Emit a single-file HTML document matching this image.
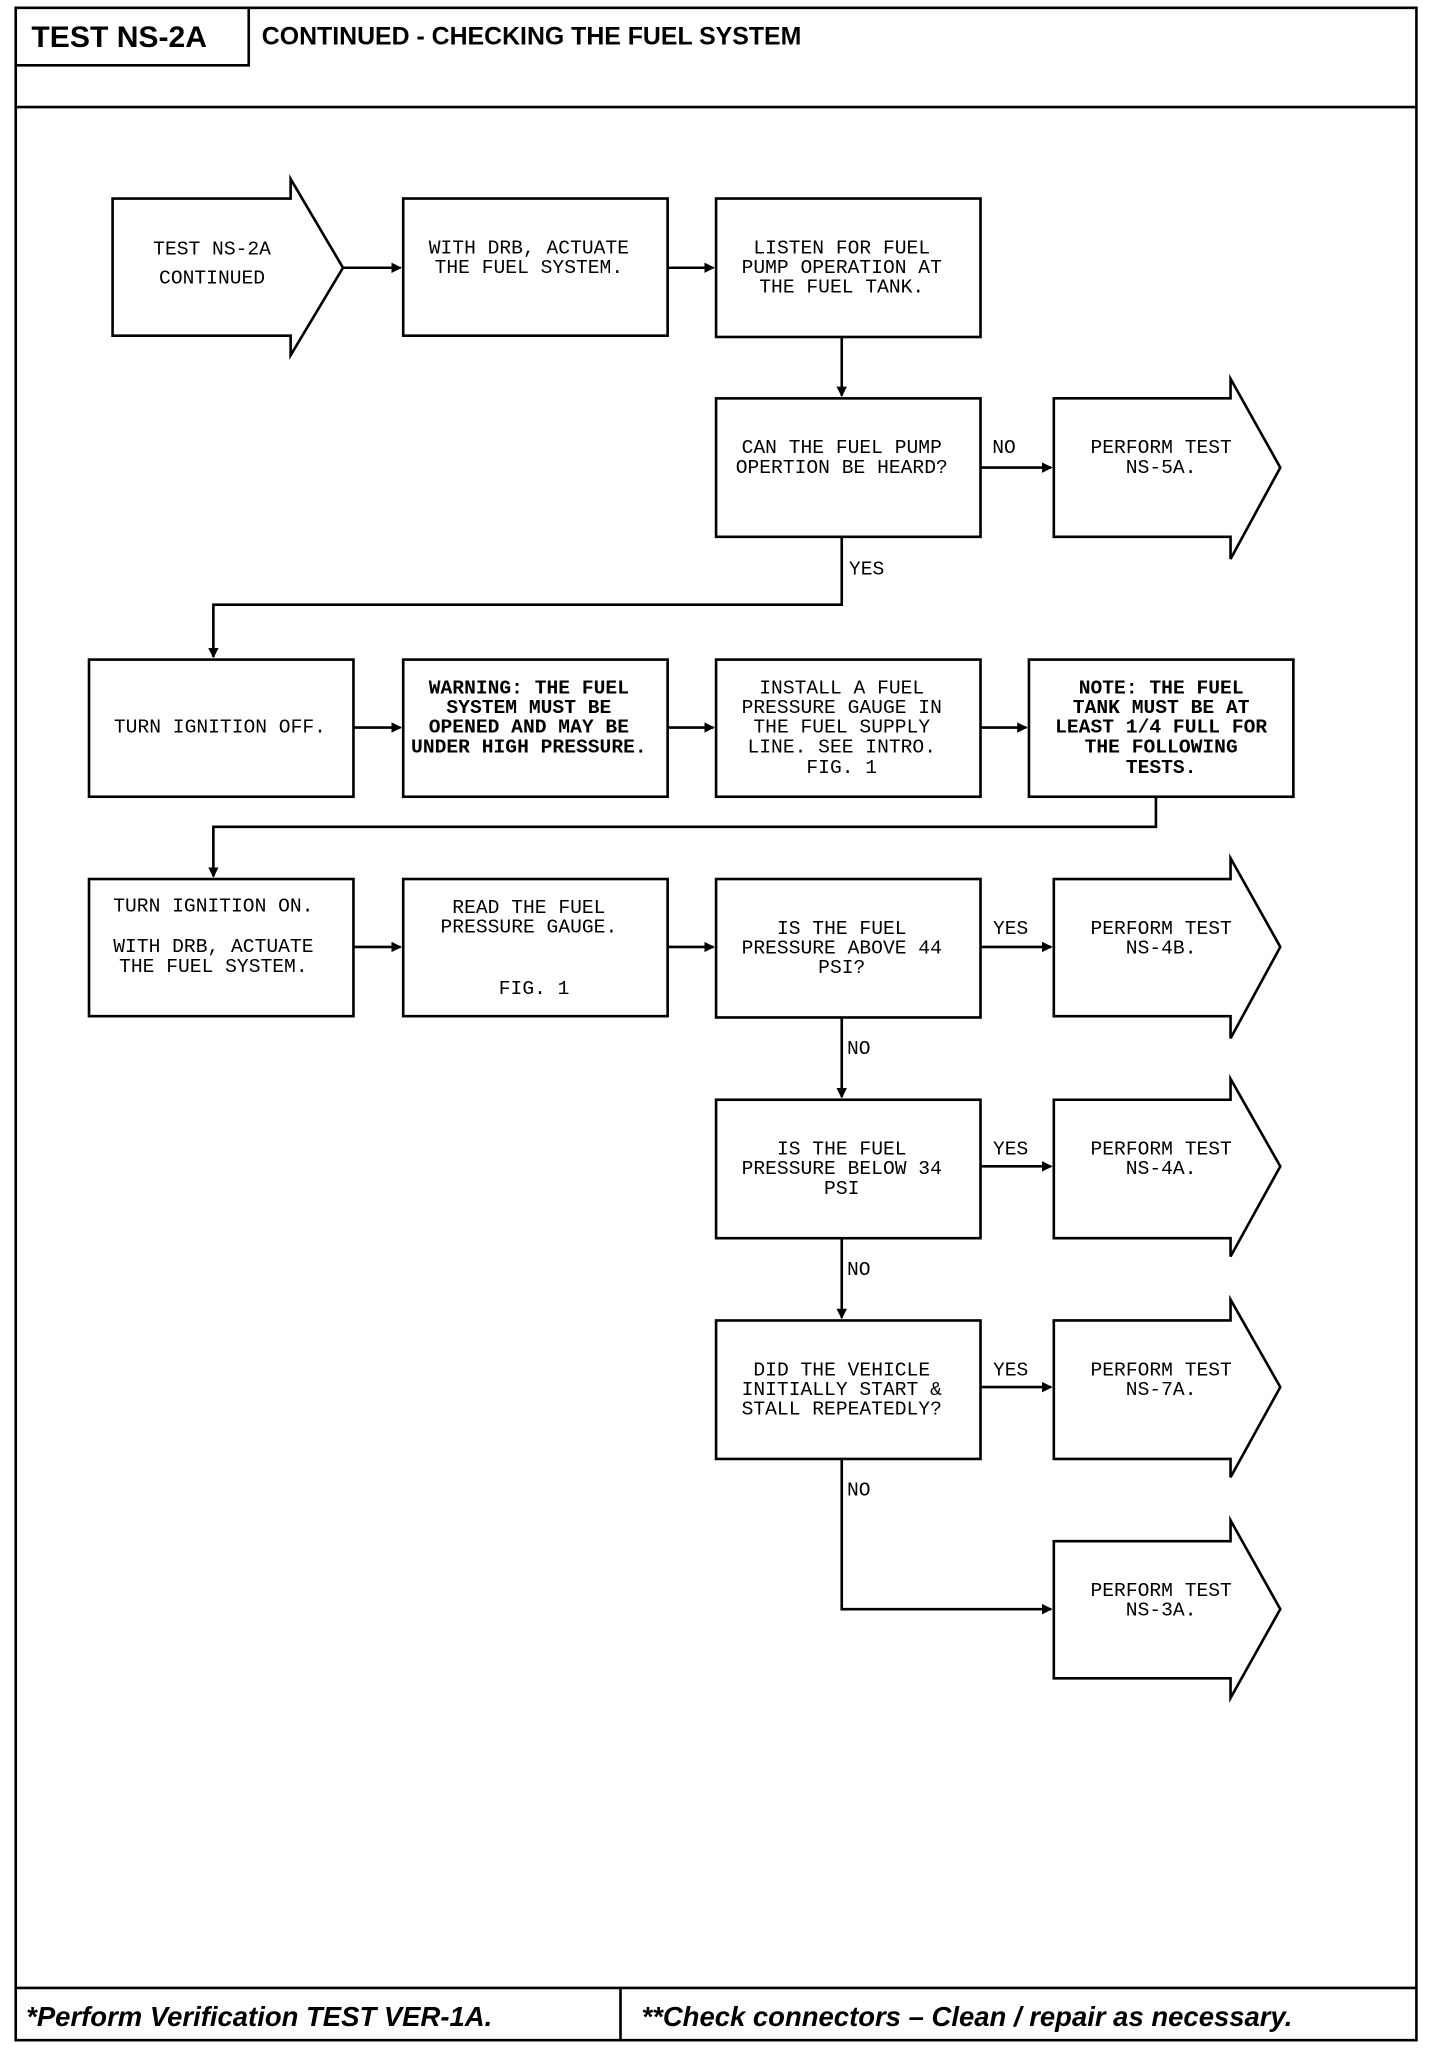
<!DOCTYPE html>
<html><head><meta charset="utf-8"><style>
html,body{margin:0;padding:0;background:#fff;width:1440px;height:2048px;overflow:hidden}
svg{display:block}
.m{font-family:"Liberation Mono",monospace;font-size:15px;text-anchor:middle;fill:#000}
.b{font-weight:bold}
.h{font-family:"Liberation Sans",sans-serif;font-weight:bold;fill:#000}
</style></head><body>
<svg width="1440" height="2048" viewBox="0 0 1100 1568" preserveAspectRatio="none" xmlns="http://www.w3.org/2000/svg">
<defs><marker id="a" markerWidth="8" markerHeight="8" refX="7" refY="4" orient="auto" markerUnits="userSpaceOnUse"><path d="M0,0 L8,4 L0,8 z" fill="#000"/></marker></defs>
<g fill="none" stroke="#000" stroke-width="2">
<rect x="12" y="6" width="1070" height="1556"/>
<line x1="12" y1="82" x2="1082" y2="82"/>
<polyline points="12,50 190,50 190,6"/>
<line x1="12" y1="1522" x2="1082" y2="1522"/>
<line x1="474" y1="1522" x2="474" y2="1562"/>
<!-- start arrow -->
<polygon points="86,152 222,152 222,137 262,205 222,272 222,257 86,257"/>
<rect x="308" y="152" width="202" height="105"/>
<rect x="547" y="152" width="202" height="106"/>
<rect x="547" y="305" width="202" height="106"/>
<polygon points="805,305 940,305 940,290 978,358 940,428 940,411 805,411"/>
<rect x="68" y="505" width="202" height="105"/>
<rect x="308" y="505" width="202" height="105"/>
<rect x="547" y="505" width="202" height="105"/>
<rect x="786" y="505" width="202" height="105"/>
<rect x="68" y="673" width="202" height="105"/>
<rect x="308" y="673" width="202" height="105"/>
<rect x="547" y="673" width="202" height="106"/>
<polygon points="805,673 940,673 940,657 978,725 940,795 940,778 805,778"/>
<rect x="547" y="842" width="202" height="106"/>
<polygon points="805,842 940,842 940,826 978,893 940,962 940,948 805,948"/>
<rect x="547" y="1011" width="202" height="106"/>
<polygon points="805,1011 940,1011 940,995 978,1062 940,1131 940,1117 805,1117"/>
<polygon points="805,1180 940,1180 940,1164 978,1232 940,1300 940,1285 805,1285"/>
</g>
<g fill="none" stroke="#000" stroke-width="2">
<line x1="262" y1="205" x2="306" y2="205" marker-end="url(#a)"/>
<line x1="510" y1="205" x2="545" y2="205" marker-end="url(#a)"/>
<line x1="643" y1="258" x2="643" y2="303" marker-end="url(#a)"/>
<line x1="749" y1="358" x2="803" y2="358" marker-end="url(#a)"/>
<polyline points="643,411 643,463 163,463 163,503" marker-end="url(#a)"/>
<line x1="270" y1="557" x2="306" y2="557" marker-end="url(#a)"/>
<line x1="510" y1="557" x2="545" y2="557" marker-end="url(#a)"/>
<line x1="749" y1="557" x2="784" y2="557" marker-end="url(#a)"/>
<polyline points="883,610 883,633 163,633 163,671" marker-end="url(#a)"/>
<line x1="270" y1="725" x2="306" y2="725" marker-end="url(#a)"/>
<line x1="510" y1="725" x2="545" y2="725" marker-end="url(#a)"/>
<line x1="749" y1="725" x2="803" y2="725" marker-end="url(#a)"/>
<line x1="643" y1="779" x2="643" y2="840" marker-end="url(#a)"/>
<line x1="749" y1="893" x2="803" y2="893" marker-end="url(#a)"/>
<line x1="643" y1="948" x2="643" y2="1009" marker-end="url(#a)"/>
<line x1="749" y1="1062" x2="803" y2="1062" marker-end="url(#a)"/>
<polyline points="643,1117 643,1232 803,1232" marker-end="url(#a)"/>
</g>
<text class="h" x="24" y="36" font-size="23">TEST NS-2A</text>
<text class="h" x="200" y="34" font-size="19">CONTINUED -  CHECKING THE FUEL SYSTEM</text>
<text class="h" x="20" y="1551" font-size="21" font-style="italic">*Perform Verification TEST VER-1A.</text>
<text class="h" x="490" y="1551" font-size="21" font-style="italic">**Check connectors – Clean / repair as necessary.</text>
<g class="m">
<text x="162" y="195">TEST NS-2A</text><text x="162" y="217">CONTINUED</text>
<text x="404" y="194">WITH DRB, ACTUATE</text><text x="404" y="209">THE FUEL SYSTEM.</text>
<text x="643" y="194">LISTEN FOR FUEL</text><text x="643" y="209">PUMP OPERATION AT</text><text x="643" y="224">THE FUEL TANK.</text>
<text x="643" y="347">CAN THE FUEL PUMP</text><text x="643" y="362">OPERTION BE HEARD?</text>
<text x="767" y="347">NO</text>
<text x="887" y="347">PERFORM TEST</text><text x="887" y="362">NS-5A.</text>
<text x="662" y="440">YES</text>
<text x="168" y="561">TURN IGNITION OFF.</text>
<g class="b"><text x="404" y="531">WARNING: THE FUEL</text><text x="404" y="546">SYSTEM MUST BE</text><text x="404" y="561">OPENED AND MAY BE</text><text x="404" y="576">UNDER HIGH PRESSURE.</text>
<text x="887" y="531">NOTE: THE FUEL</text><text x="887" y="546">TANK MUST BE AT</text><text x="887" y="561">LEAST 1/4 FULL FOR</text><text x="887" y="576">THE FOLLOWING</text><text x="887" y="592">TESTS.</text></g>
<text x="643" y="531">INSTALL A FUEL</text><text x="643" y="546">PRESSURE GAUGE IN</text><text x="643" y="561">THE FUEL SUPPLY</text><text x="643" y="576">LINE. SEE INTRO.</text><text x="643" y="592">FIG. 1</text>
<text x="163" y="698">TURN IGNITION ON.</text><text x="163" y="729">WITH DRB, ACTUATE</text><text x="163" y="744">THE FUEL SYSTEM.</text>
<text x="404" y="699">READ THE FUEL</text><text x="404" y="714">PRESSURE GAUGE.</text><text x="408" y="761">FIG. 1</text>
<text x="643" y="715">IS THE FUEL</text><text x="643" y="730">PRESSURE ABOVE 44</text><text x="643" y="745">PSI?</text>
<text x="772" y="715">YES</text><text x="887" y="715">PERFORM TEST</text><text x="887" y="730">NS-4B.</text>
<text x="656" y="807">NO</text>
<text x="643" y="884">IS THE FUEL</text><text x="643" y="899">PRESSURE BELOW 34</text><text x="643" y="914">PSI</text>
<text x="772" y="884">YES</text><text x="887" y="884">PERFORM TEST</text><text x="887" y="899">NS-4A.</text>
<text x="656" y="976">NO</text>
<text x="643" y="1053">DID THE VEHICLE</text><text x="643" y="1068">INITIALLY START &amp;</text><text x="643" y="1083">STALL REPEATEDLY?</text>
<text x="772" y="1053">YES</text><text x="887" y="1053">PERFORM TEST</text><text x="887" y="1068">NS-7A.</text>
<text x="656" y="1145">NO</text>
<text x="887" y="1222">PERFORM TEST</text><text x="887" y="1237">NS-3A.</text>
</g>
</svg>
</body></html>
